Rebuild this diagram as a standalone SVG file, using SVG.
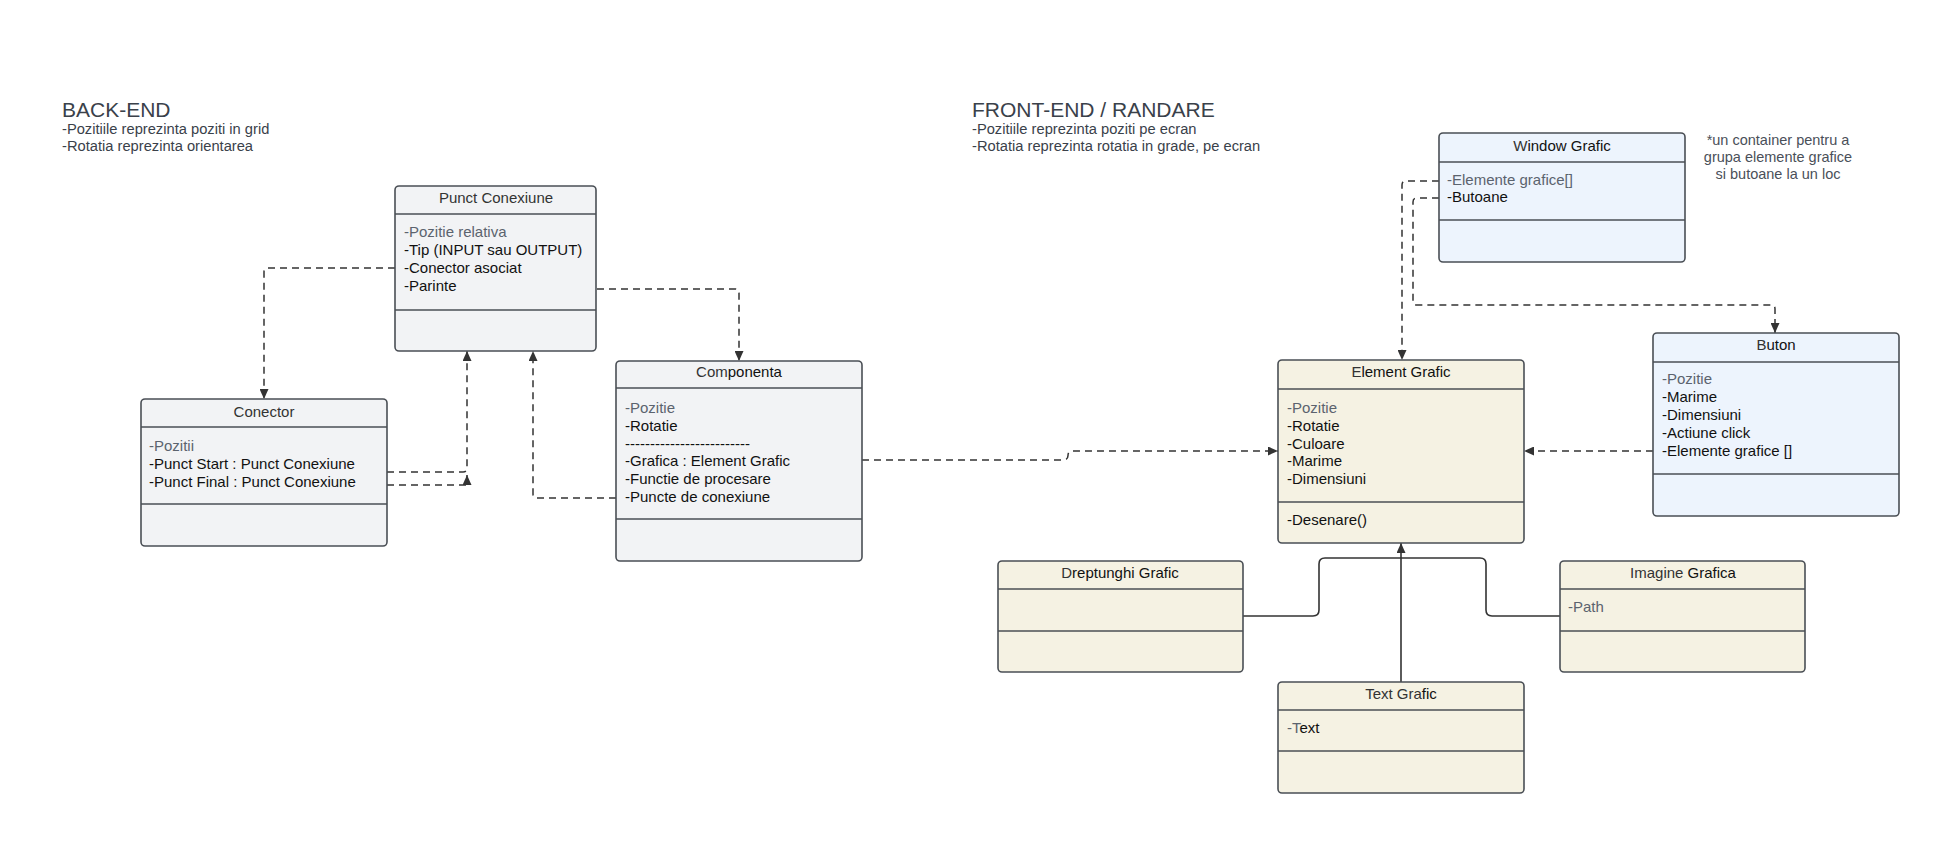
<svg xmlns="http://www.w3.org/2000/svg" width="1937" height="860" viewBox="0 0 1937 860">
<defs>
<marker id="arr" markerUnits="userSpaceOnUse" markerWidth="11" markerHeight="9" refX="10" refY="4.5" orient="auto">
<path d="M0,0 L10,4.5 L0,9 z" fill="#333"/>
</marker>
</defs>
<style>
text{font-family:"Liberation Sans",Arial,sans-serif;}
.h{font-size:21px;fill:#3a414a;}
.s{font-size:14.7px;fill:#3a414a;}
.t{font-size:15px;fill:#333;text-anchor:middle;}
.a{font-size:15px;fill:#111;}
.g{fill:#5b636e;}
.box{stroke:#4a4f55;stroke-width:1.6;}
.gr{fill:#f2f3f5;}
.be{fill:#f5f2e3;}
.bl{fill:#edf4fd;}
.dv{stroke:#4a4f55;stroke-width:1.6;}
.d{fill:none;stroke:#333;stroke-width:1.5;stroke-dasharray:7 5;}
.l{fill:none;stroke:#333;stroke-width:1.6;}
.n{font-size:14.5px;fill:#4a5059;text-anchor:middle;}
</style>
<rect width="1937" height="860" fill="#fff"/>
<g id="notes">
<text class="h" x="62" y="117">BACK-END</text>
<text class="s" x="62" y="134">-Pozitiile reprezinta poziti in grid</text>
<text class="s" x="62" y="151">-Rotatia reprezinta orientarea</text>
<text class="h" x="972" y="117">FRONT-END / RANDARE</text>
<text class="s" x="972" y="134">-Pozitiile reprezinta poziti pe ecran</text>
<text class="s" x="972" y="151">-Rotatia reprezinta rotatia in grade, pe ecran</text>
<text class="n" x="1778" y="145">*un container pentru a</text>
<text class="n" x="1778" y="162">grupa elemente grafice</text>
<text class="n" x="1778" y="179">si butoane la un loc</text>
</g>
<g id="connectors">
<path class="d" d="M395,268 H268 Q264,268 264,272 V399" marker-end="url(#arr)"/>
<path class="d" d="M597,289 H735 Q739,289 739,293 V361" marker-end="url(#arr)"/>
<path class="d" d="M387,472 H463 Q467,472 467,468 V351" marker-end="url(#arr)"/>
<path class="d" d="M387,485 H467 V475" marker-end="url(#arr)"/>
<path class="d" d="M616,498 H537 Q533,498 533,494 V351" marker-end="url(#arr)"/>
<path class="d" d="M862,460 H1063 Q1068,460 1068,455.5 Q1068,451 1073,451 H1278" marker-end="url(#arr)"/>
<path class="d" d="M1653,451 H1524" marker-end="url(#arr)"/>
<path class="d" d="M1439,181 H1406 Q1402,181 1402,185 V360" marker-end="url(#arr)"/>
<path class="d" d="M1439,198 H1417 Q1413,198 1413,202 V301 Q1413,305 1417,305 H1771 Q1775,305 1775,309 V333" marker-end="url(#arr)"/>
<path class="l" d="M1243,616 H1313 Q1319,616 1319,610 V564 Q1319,558 1325,558 H1401"/>
<path class="l" d="M1560,616 H1492 Q1486,616 1486,610 V564 Q1486,558 1480,558 H1401"/>
<path class="l" d="M1401,682 V543" marker-end="url(#arr)"/>
</g>
<g id="punct-conexiune">
<rect class="box gr" x="395" y="186" width="201" height="165" rx="4"/>
<line class="dv" x1="395" y1="214" x2="596" y2="214"/>
<line class="dv" x1="395" y1="310" x2="596" y2="310"/>
<text class="t" x="496" y="203">Punct Conexiune</text>
<text class="a g" x="404" y="237">-Pozitie relativa</text>
<text class="a" x="404" y="255">-Tip (INPUT sau OUTPUT)</text>
<text class="a" x="404" y="273">-Conector asociat</text>
<text class="a" x="404" y="291">-Parinte</text>
</g>
<g id="conector">
<rect class="box gr" x="141" y="399" width="246" height="147" rx="4"/>
<line class="dv" x1="141" y1="427" x2="387" y2="427"/>
<line class="dv" x1="141" y1="504" x2="387" y2="504"/>
<text class="t" x="264" y="417">Conector</text>
<text class="a g" x="149" y="451">-Pozitii</text>
<text class="a" x="149" y="469">-Punct Start : Punct Conexiune</text>
<text class="a" x="149" y="487">-Punct Final : Punct Conexiune</text>
</g>
<g id="componenta">
<rect class="box gr" x="616" y="361" width="246" height="200" rx="4"/>
<line class="dv" x1="616" y1="388" x2="862" y2="388"/>
<line class="dv" x1="616" y1="519" x2="862" y2="519"/>
<text class="t" x="739" y="377">Com<tspan fill="#111">ponenta</tspan></text>
<text class="a g" x="625" y="413">-Pozitie</text>
<text class="a" x="625" y="431">-Rotatie</text>
<text class="a" x="625" y="449">-------------------------</text>
<text class="a" x="625" y="466">-Grafica : Element Grafic</text>
<text class="a" x="625" y="484">-Functie de procesare</text>
<text class="a" x="625" y="502">-Puncte de conexiune</text>
</g>
<g id="window-grafic">
<rect class="box bl" x="1439" y="133" width="246" height="129" rx="4"/>
<line class="dv" x1="1439" y1="162" x2="1685" y2="162"/>
<line class="dv" x1="1439" y1="220" x2="1685" y2="220"/>
<text class="t" x="1562" y="151">W<tspan fill="#111">indow Grafic</tspan></text>
<text class="a g" x="1447" y="185">-Elemente grafice[]</text>
<text class="a" x="1447" y="202">-Butoane</text>
</g>
<g id="element-grafic">
<rect class="box be" x="1278" y="360" width="246" height="183" rx="4"/>
<line class="dv" x1="1278" y1="389" x2="1524" y2="389"/>
<line class="dv" x1="1278" y1="502" x2="1524" y2="502"/>
<text class="t" x="1401" y="377">E<tspan fill="#111">lement Grafic</tspan></text>
<text class="a g" x="1287" y="413">-Pozitie</text>
<text class="a" x="1287" y="431">-Rotatie</text>
<text class="a" x="1287" y="449">-Culoare</text>
<text class="a" x="1287" y="466">-Marime</text>
<text class="a" x="1287" y="484">-Dimensiuni</text>
<text class="a" x="1287" y="525">-Desenare()</text>
</g>
<g id="buton">
<rect class="box bl" x="1653" y="333" width="246" height="183" rx="4"/>
<line class="dv" x1="1653" y1="362" x2="1899" y2="362"/>
<line class="dv" x1="1653" y1="474" x2="1899" y2="474"/>
<text class="t" x="1776" y="350">B<tspan fill="#111">uton</tspan></text>
<text class="a g" x="1662" y="384">-Pozitie</text>
<text class="a" x="1662" y="402">-Marime</text>
<text class="a" x="1662" y="420">-Dimensiuni</text>
<text class="a" x="1662" y="438">-Actiune click</text>
<text class="a" x="1662" y="456">-Elemente grafice []</text>
</g>
<g id="dreptunghi-grafic">
<rect class="box be" x="998" y="561" width="245" height="111" rx="4"/>
<line class="dv" x1="998" y1="589" x2="1243" y2="589"/>
<line class="dv" x1="998" y1="631" x2="1243" y2="631"/>
<text class="t" x="1120" y="578">D<tspan fill="#111">reptunghi Grafic</tspan></text>
</g>
<g id="imagine-grafica">
<rect class="box be" x="1560" y="561" width="245" height="111" rx="4"/>
<line class="dv" x1="1560" y1="589" x2="1805" y2="589"/>
<line class="dv" x1="1560" y1="631" x2="1805" y2="631"/>
<text class="t" x="1683" y="578">Imagine <tspan fill="#111">Grafica</tspan></text>
<text class="a g" x="1568" y="612">-Path</text>
</g>
<g id="text-grafic">
<rect class="box be" x="1278" y="682" width="246" height="111" rx="4"/>
<line class="dv" x1="1278" y1="710" x2="1524" y2="710"/>
<line class="dv" x1="1278" y1="751" x2="1524" y2="751"/>
<text class="t" x="1401" y="699">Text Gra<tspan fill="#111">fic</tspan></text>
<text class="a g" x="1287" y="733">-T<tspan fill="#111">ext</tspan></text>
</g>
</svg>
